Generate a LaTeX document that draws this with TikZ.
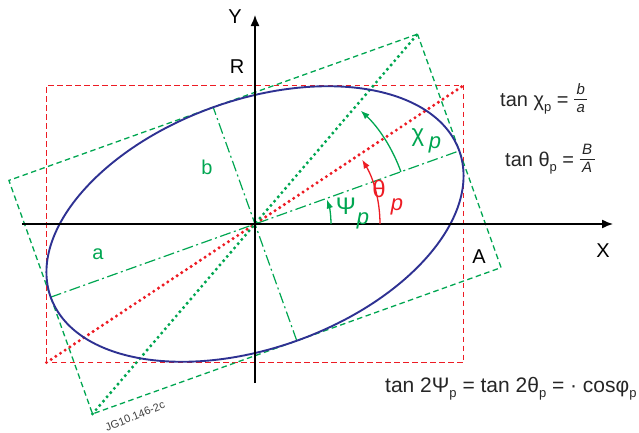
\documentclass[tikz,border=0pt]{standalone}
\usepackage{amsmath}
\usepackage{fontspec}
\setmainfont{Liberation Sans}
\usetikzlibrary{arrows.meta,calc}
\definecolor{Ellblue}{HTML}{2E3192}
\definecolor{Polred}{HTML}{ED1C24}
\definecolor{Polgreen}{HTML}{00A651}
\newcommand{\psub}[1]{\raisebox{-0.45ex}{\fontsize{13}{13}\selectfont #1}}
\newcommand{\pfrac}[2]{\raisebox{0.3ex}{\fontsize{15}{16}\selectfont\itshape
  \renewcommand{\arraystretch}{1.05}\begin{tabular}{@{\,}c@{\,}}#1\\[-1pt]\hline\rule{0pt}{13pt}#2\end{tabular}}}

\begin{document}
\begin{tikzpicture}[x=1pt,y=1pt,>=Latex,
    dashbox/.style={dash pattern=on 5.5pt off 3.5pt, line width=1.3pt},
    dotline/.style={line width=3.4pt, dash pattern=on 0pt off 5.6pt, line cap=round},
    semiaxis/.style={dash pattern=on 11pt off 3.5pt on 2pt off 3.5pt, line width=1.2pt, color=Polgreen},
    lab/.style={font=\fontsize{20}{22}\selectfont, inner sep=0pt},
    greek/.style={font=\fontsize{24}{26}\selectfont, inner sep=0pt},
    itp/.style={font=\fontsize{22}{24}\selectfont\itshape, inner sep=0pt},
    eqn/.style={font=\fontsize{20}{22}\selectfont, inner sep=0pt, anchor=west, color=black!85}]
    \useasboundingbox (-255,-208) rectangle (384,224);
    \def\ang{19.7}
    % ellipse frame
    \coordinate (O) at (0,0);
    \coordinate (Ap) at (\ang:217);
    \coordinate (Am) at (\ang+180:217);
    \coordinate (Bp) at (\ang+90:124);
    \coordinate (Bm) at (\ang-90:124);
    \coordinate (C1) at ($(Ap)+(Bp)$);
    \coordinate (C2) at ($(Am)+(Bp)$);
    \coordinate (C3) at ($(Am)+(Bm)$);
    \coordinate (C4) at ($(Ap)+(Bm)$);
    \coordinate (R1) at (-208.5,-138.5);
    \coordinate (R2) at (208.5,138.5);
    \draw[dashbox, Polred] (R1) rectangle (R2);
    \draw[dashbox, Polgreen] (C1) -- (C2) -- (C3) -- (C4) -- cycle;
    \draw[semiaxis] (Am) -- (Ap);
    \draw[semiaxis] (Bm) -- (Bp);
    \draw[dotline, Polred] (R1) -- (R2);
    \draw[dotline, Polgreen] (C3) -- (C1);
    \draw[Ellblue, line width=1.9pt, rotate=\ang] (O) ellipse (217 and 124);
    % axes
    \coordinate (Xs) at (-233,0);
    \coordinate (Xe) at (358,0);
    \coordinate (Ys) at (0,-159);
    \coordinate (Ye) at (0,209);
    \draw[->, line width=1.4pt, >={Latex[length=11pt,width=9pt]}] (Xs) -- (Xe);
    \draw[->, line width=1.4pt, >={Latex[length=11pt,width=9pt]}] (Ys) -- (Ye);
    % angles
    \draw[->, Polgreen, line width=1.3pt] (76,0) arc[start angle=0, end angle=\ang-1, radius=76];
    \draw[->, Polred, line width=1.3pt] (125,0) arc[start angle=0, end angle=31, radius=125];
    \draw[->, Polgreen, line width=1.3pt] (\ang:155) arc[start angle=\ang, end angle=47, radius=155];
    % labels
    \node[lab] (ylab) at (-20,207) {Y};
    \node[lab] (rlab) at (-18,157) {R};
    \node[lab] (xlab) at (348,-27) {X};
    \node[lab] (alab) at (224,-33) {A};
    \node[lab, Polgreen] (blab) at (-48,57) {b};
    \node[lab, Polgreen] (alab2) at (-157,-30) {a};
    \node[greek, Polgreen] (psi) at (91,18) {Ψ};
    \node[itp, Polgreen] (psip) at (108,3) {p};
    \node[greek, Polred] (theta) at (124,35) {θ};
    \node[itp, Polred] (thetap) at (142,17) {p};
    \node[greek, Polgreen] (chi) at (163,86) {χ};
    \node[itp, Polgreen] (chip) at (180,79) {p};
    \node[eqn] (tanchi) at (245,124) {tan χ\psub{p} = \pfrac{b}{a}};
    \node[eqn] (tantheta) at (250,64) {tan θ\psub{p} = \pfrac{B}{A}};
    \node[eqn, font=\fontsize{21}{22}\selectfont] (tanpsi) at (130,-165) {tan 2Ψ\psub{p} = tan 2θ\psub{p} = · cosφ\psub{p}};
    \node[inner sep=0pt, rotate=22, font=\fontsize{11}{12}\selectfont, color=black!75] (ref) at (-120,-192) {JG10.146-2c};
\end{tikzpicture}
\end{document}
